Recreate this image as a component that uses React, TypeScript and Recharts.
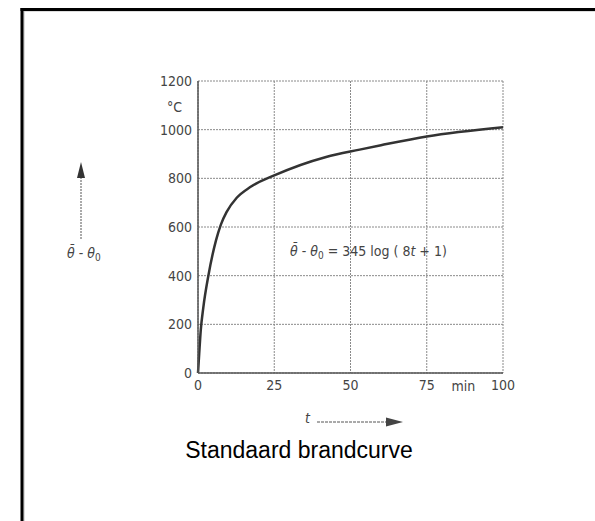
import React from 'react';
import { LineChart, Line, XAxis, YAxis, CartesianGrid, ReferenceDot } from 'recharts';

// time in minutes
const minutes = [0, 0.4, 0.9, 1.75, 3.4, 5.9, 7.5, 9.4, 12.7, 17, 25, 42, 53, 60, 75, 100];
// temperature rise in °C
const temperature = [0, 80, 175, 270, 400, 545, 610, 662, 720, 763, 812, 888, 918, 936, 972, 1010];

const xTicks = [0, 25, 50, 75, 100];
const yTicks = [0, 200, 400, 600, 800, 1000, 1200];

const data = minutes.map((t, i) => ({ t, value: temperature[i] }));

const font = '"DejaVu Sans Condensed", sans-serif';
const tickFont = { fontSize: 14, fill: '#444', fontFamily: font };

export default function App() {
  return (
    <div style={{ position: 'absolute', left: 0, top: 0, width: 595, height: 521, background: '#fff' }}>
      <LineChart width={595} height={521} data={data} margin={{ top: 81, right: 92, bottom: 118, left: 0 }}>
        <CartesianGrid stroke="#8a8a8a" strokeDasharray="2 1" strokeWidth={1} />
        <XAxis
          dataKey="t"
          type="number"
          domain={[0, 100]}
          ticks={xTicks}
          height={30}
          tick={tickFont}
          tickLine={false}
          tickSize={0}
          tickMargin={7}
          axisLine={{ stroke: '#555', strokeWidth: 1.5 }}
        />
        <YAxis
          type="number"
          domain={[0, 1200]}
          ticks={yTicks}
          width={198}
          tick={tickFont}
          tickLine={false}
          tickSize={0}
          tickMargin={6}
          axisLine={{ stroke: '#555', strokeWidth: 1.5 }}
          label={{
            content: ({ viewBox }: any) => (
              <text
                x={viewBox.x + viewBox.width - 16}
                y={viewBox.y + 31}
                textAnchor="end"
                {...tickFont}
              >
                °C
              </text>
            ),
          }}
        />
        <ReferenceDot
          x={87}
          y={0}
          r={0}
          stroke="none"
          label={{ value: 'min', position: 'bottom', offset: 8, ...tickFont }}
        />
        <Line
          type="monotone"
          dataKey="value"
          stroke="#333"
          strokeWidth={2.5}
          dot={false}
          isAnimationActive={false}
        />
      </LineChart>
      <svg
        width={595}
        height={521}
        style={{ position: 'absolute', left: 0, top: 0, pointerEvents: 'none' }}
      >
        {/* frame */}
        <line x1={24} y1={11} x2={24} y2={521} stroke="#bbb" strokeWidth={1} />
        <line x1={24} y1={11} x2={595} y2={11} stroke="#bbb" strokeWidth={1} />
        <line x1={22} y1={8} x2={22} y2={521} stroke="#000" strokeWidth={3} />
        <line x1={20.5} y1={9.5} x2={595} y2={9.5} stroke="#000" strokeWidth={3} />

        {/* formula */}
        <text x={290} y={256} fontSize={14} fill="#444" fontFamily={font}>
          <tspan fontStyle="italic">θ̄</tspan>
          <tspan> - </tspan>
          <tspan fontStyle="italic">θ</tspan>
          <tspan dy={3} fontSize={10}>0</tspan>
          <tspan dy={-3}> = 345 log ( 8</tspan>
          <tspan fontStyle="italic">t</tspan>
          <tspan> + 1)</tspan>
        </text>

        {/* y quantity with arrow */}
        <line x1={81} y1={239} x2={81} y2={174} stroke="#555" strokeWidth={1} strokeDasharray="2 1" />
        <polygon points="81,162 77,178 85,178" fill="#333" />
        <text x={67} y={258} fontSize={14} fill="#444" fontFamily={font}>
          <tspan fontStyle="italic">θ̄</tspan>
          <tspan> - </tspan>
          <tspan fontStyle="italic">θ</tspan>
          <tspan dy={3} fontSize={10}>0</tspan>
        </text>

        {/* x quantity with arrow */}
        <text x={305} y={423} fontSize={14} fill="#444" fontStyle="italic" fontFamily={font}>
          t
        </text>
        <line x1={317} y1={422} x2={389} y2={422} stroke="#555" strokeWidth={1} strokeDasharray="3 1" />
        <polygon points="403,422 386,417.5 386,426.5" fill="#444" />

        {/* title */}
        <text x={299} y={458} fontSize={23} fill="#000" textAnchor="middle" fontFamily='"Liberation Sans", Arial, sans-serif'>
          Standaard brandcurve
        </text>
      </svg>
    </div>
  );
}
